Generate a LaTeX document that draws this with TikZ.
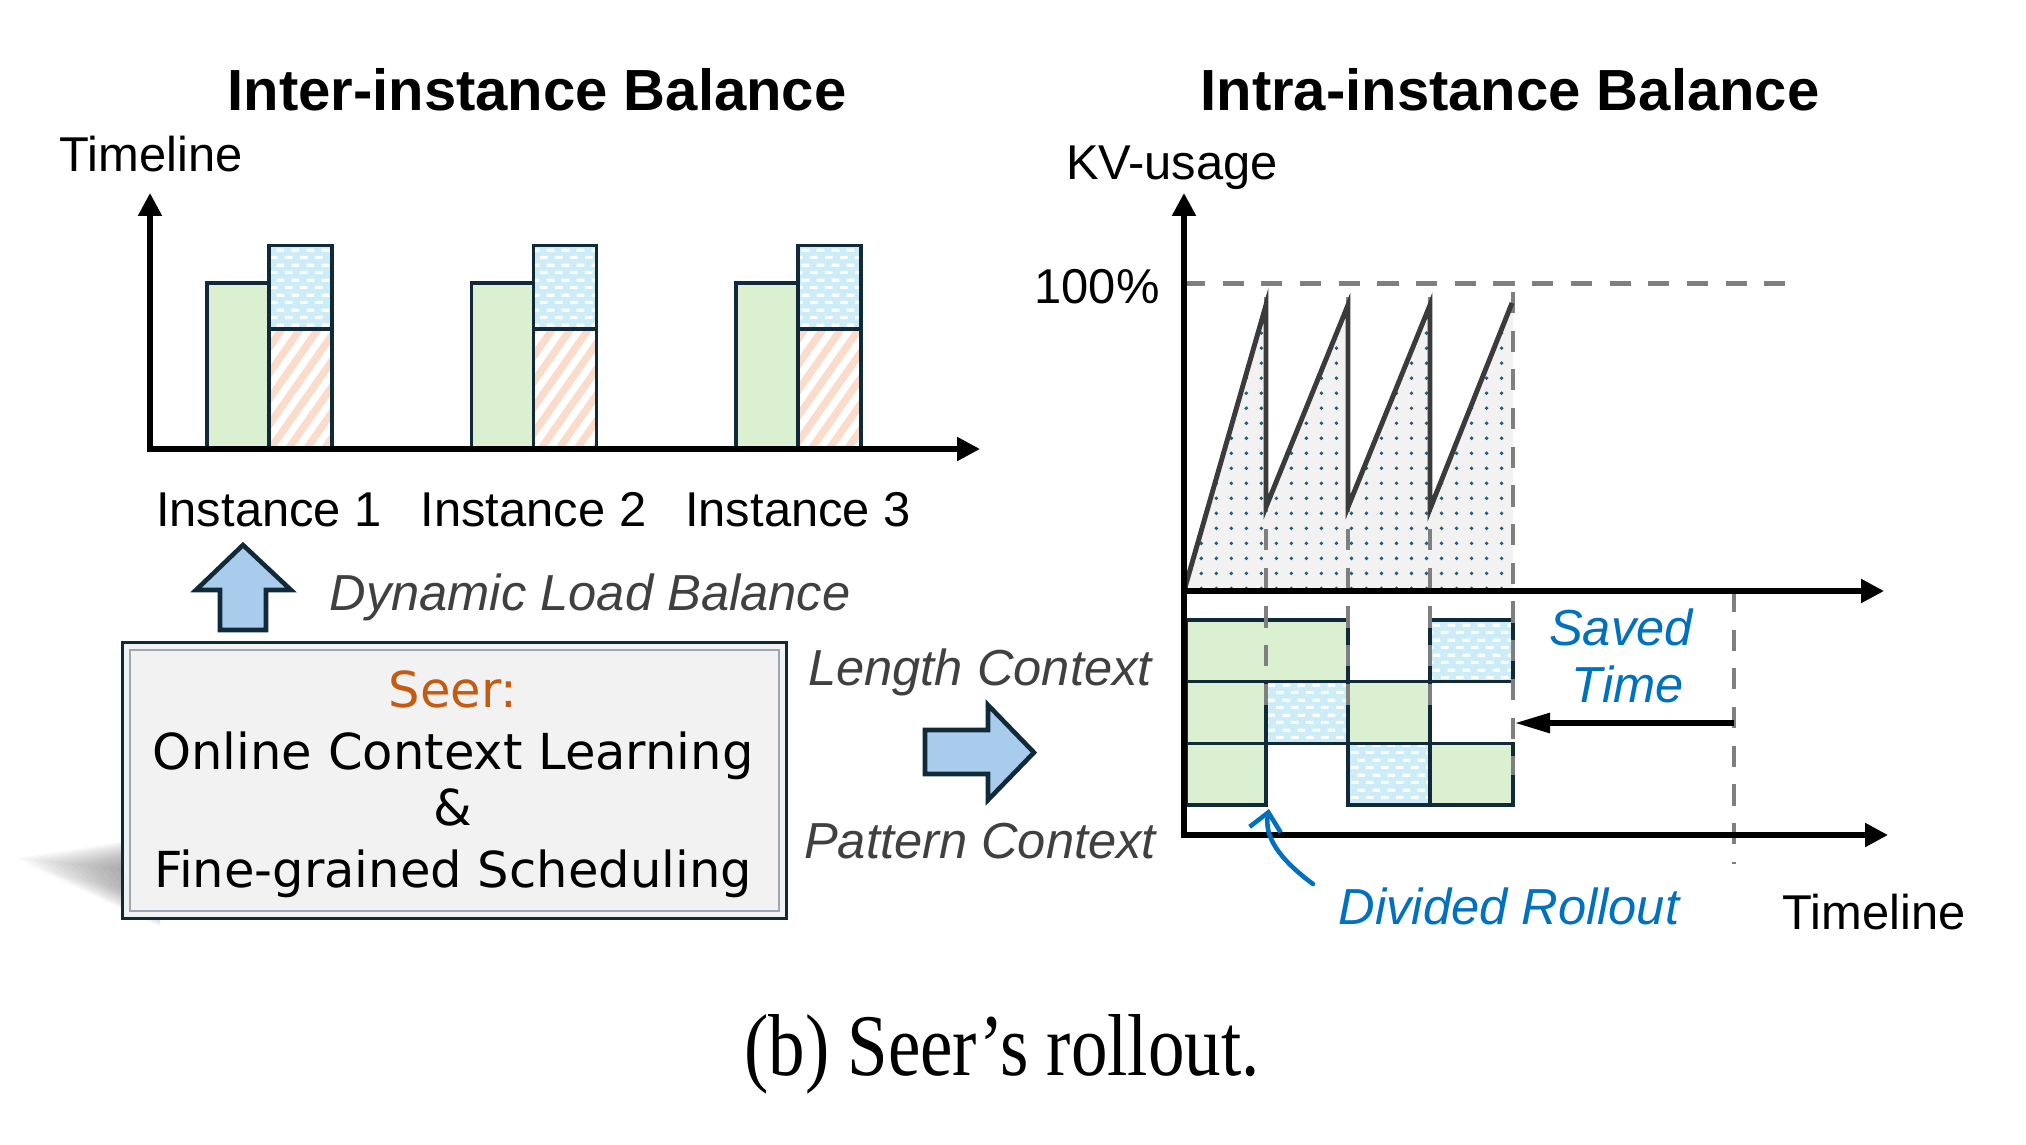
\documentclass[tikz,border=0pt]{standalone}
\usepackage{fontspec}
\setmainfont{Liberation Sans}
\newfontfamily\seerfont{DejaVu Sans}
\newfontfamily\capfont{Liberation Serif}
\usetikzlibrary{arrows.meta,patterns.meta}
\definecolor{navy}{HTML}{102A3A}
\definecolor{barGreen}{HTML}{DAF0D0}
\definecolor{barBlue}{HTML}{CCECF8}
\definecolor{barPeach}{HTML}{FBDCCB}
\definecolor{boxGray}{HTML}{F2F2F2}
\definecolor{dashGray}{HTML}{7F7F7F}
\definecolor{sawGray}{HTML}{3B3B3B}
\definecolor{dotBlue}{HTML}{1D5E80}
\definecolor{txtBlue}{HTML}{0070C0}
\definecolor{txtOrange}{HTML}{C55A11}
\definecolor{txtGray}{HTML}{404040}
\definecolor{arrFill}{HTML}{A9CBEC}
\definecolor{innerLine}{HTML}{9AA8B4}
\tikzdeclarepattern{
  name=whitedash,
  type=uncolored,
  bottom left={(0pt,0pt)},
  top right={(4.27pt,4.27pt)},
  tile size={(4.27pt,4.27pt)},
  code={
    \fill (0pt,0pt) rectangle (2.3pt,0.95pt);
    \fill (2.0pt,2.13pt) rectangle (4.27pt,3.08pt);
  }
}
\begin{document}
\begin{tikzpicture}[x=0.01cm,y=-0.01cm,
  lbl/.style={inner sep=0pt, anchor=base, font=\fontsize{13.9}{16}\selectfont},
  ital/.style={inner sep=0pt, anchor=base, font=\fontsize{14.4}{17}\selectfont\itshape},
  ttl/.style={inner sep=0pt, anchor=base, font=\fontsize{16.5}{19}\selectfont\bfseries},
  seertxt/.style={inner sep=0pt, anchor=base, font=\seerfont\fontsize{14.1}{17}\selectfont},
  axis/.style={line width=1.5pt, -{Triangle[length=6.5pt,width=6.5pt]}},
  greenbox/.style={fill=barGreen, draw=navy, line width=1pt},
  bluebox/.style={draw=navy, line width=1pt, preaction={fill=barBlue}, pattern=whitedash, pattern color=white},
  peachbox/.style={draw=navy, line width=1pt, preaction={fill=white}, pattern={Lines[angle=55,distance=4.2pt,line width=2.1pt]}, pattern color=barPeach},
  gdash/.style={draw=dashGray, line width=1.3pt, dash pattern=on 6pt off 5pt},
  blockarrow/.style={fill=arrFill, draw=navy, line width=1.3pt, line join=miter},
]
\useasboundingbox (0,0) rectangle (2026,1144);

% ---------------- titles ----------------
\node[ttl] (t1) at (537,110) {Inter-instance Balance};
\node[ttl] (t2) at (1510,110) {Intra-instance Balance};

% ---------------- left chart ----------------
\node[lbl] (tl1) at (151,171.5) {Timeline};
\coordinate (o1) at (150,449);
\coordinate (yt1) at (150,193);
\coordinate (xt1) at (980,449);

\foreach \dx/\i in {0/1,264.5/2,529/3}{
  \begin{scope}[xshift=\dx*0.01cm]
    \draw[greenbox] (207,449) rectangle (269,283);
    \draw[peachbox] (269,449) rectangle (332,329);
    \draw[bluebox] (269,329) rectangle (332,245.5);
  \end{scope}
}
\draw[axis] (o1) -- (yt1);
\draw[axis] ([xshift=-0.75pt]o1) -- (xt1);

\node[lbl] (i1) at (269,526.5) {Instance 1};
\node[lbl] (i2) at (533.5,526.5) {Instance 2};
\node[lbl] (i3) at (798,526.5) {Instance 3};

% up block arrow
\draw[blockarrow] (220,630) -- (220,590) -- (196,590) -- (243,545) -- (291,590) -- (266,590) -- (266,630) -- cycle;
\node[ital, text=txtGray] (dlb) at (590,610) {Dynamic Load Balance};

% ---------------- Seer box ----------------
\foreach \t in {0,1,...,13}{
  \fill[black, opacity=0.028] (160,{836+1.2*\t}) -- ({18+7.5*\t},{858+0.8*\t}) -- ({40+7*\t},{870+1.5*\t}) -- (160,{927-1.5*\t}) -- cycle;
}
\node[draw=navy, line width=0.8pt, fill=boxGray, minimum width=664*0.01cm, minimum height=276*0.01cm, inner sep=0pt, anchor=north west] (seer) at (121,641) {};
\draw[innerLine, line width=0.5pt] ([xshift=2.5pt,yshift=-2.5pt]seer.north west) rectangle ([xshift=-2.5pt,yshift=2.5pt]seer.south east);
\node[seertxt, text=txtOrange] (s1) at (453,707) {Seer:};
\node[seertxt] (s2) at (453,769) {Online Context Learning};
\node[seertxt] (s3) at (453,825.6) {\&};
\node[seertxt] (s4) at (453,887.6) {Fine-grained Scheduling};

% ---------------- middle ----------------
\node[ital, text=txtGray] (lc) at (980,685) {Length Context};
\node[ital, text=txtGray] (pc) at (980,858.4) {Pattern Context};
\draw[blockarrow] (925,730) -- (988,730) -- (988,705) -- (1034,752.5) -- (988,800) -- (988,774) -- (925,774) -- cycle;

% ---------------- right chart ----------------
\node[lbl] (kv) at (1172,179.5) {KV-usage};
\node[lbl] (pct) at (1097,303) {100\%};
\coordinate (o2) at (1184,591);
\coordinate (yt2) at (1184,193);
\coordinate (xt2) at (1884,591);
\coordinate (o3) at (1184,835);
\coordinate (xt3) at (1888,835);

% filled area under sawtooth
\path[preaction={fill=boxGray}, pattern={Dots[distance=4.27pt,radius=0.55pt]}, pattern color=dotBlue]
  (1184,591) -- (1266,305) -- (1266,507) -- (1348,305) -- (1348,507) -- (1430,305) -- (1430,509) -- (1513,305) -- (1513,591) -- cycle;

% 100% dashed line
\draw[gdash] (1184,283.5) -- (1798,283.5);

% grid of boxes
\draw[greenbox] (1186,620) rectangle (1348,681.7);
\draw[bluebox] (1430,620) rectangle (1513,681.7);
\draw[greenbox] (1186,681.7) rectangle (1266,743.3);
\draw[bluebox] (1266,681.7) rectangle (1348,743.3);
\draw[greenbox] (1348,681.7) rectangle (1430,743.3);
\draw[greenbox] (1186,743.3) rectangle (1266,805);
\draw[bluebox] (1348,743.3) rectangle (1430,805);
\draw[greenbox] (1430,743.3) rectangle (1513,805);

% vertical dashed lines
\draw[gdash] (1266,297) -- (1266,705);
\draw[gdash] (1348,297) -- (1348,705);
\draw[gdash] (1430,297) -- (1430,705);
\draw[gdash] (1513,292) -- (1513,775);
\draw[gdash] (1734,591) -- (1734,864);

% sawtooth
\draw[sawGray, line width=1.4pt, line join=miter]
  (1184,591) -- (1266,305) -- (1266,507) -- (1348,305) -- (1348,507) -- (1430,305) -- (1430,509) -- (1512,303);

% axes
\draw[axis] (o2) -- (yt2);
\draw[axis] ([xshift=-0.75pt]o2) -- (xt2);
\draw[line width=1.5pt] (o2) -- ([yshift=-0.75pt]o3);
\draw[axis] ([xshift=-0.75pt]o3) -- (xt3);

% saved time
\coordinate (sa) at (1734,723);
\coordinate (sb) at (1515,723);
\draw[line width=1.5pt, -{Triangle[length=10pt,width=5.5pt]}] (sa) -- (sb);
\node[ital, text=txtBlue] (sv1) at (1621,645) {Saved};
\node[ital, text=txtBlue] (sv2) at (1628,702.6) {Time};

% divided rollout
\node[ital, text=txtBlue] (dr) at (1509,924) {Divided Rollout};
\coordinate (dra) at (1313,884);
\coordinate (drb) at (1269,809);
\draw[txtBlue, line width=1.3pt, line cap=round, -{Straight Barb[length=5pt,width=9pt]}] (dra) .. controls (1278,858) and (1264,836) .. (drb);

\node[lbl] (tl2) at (1874,929.5) {Timeline};

% ---------------- caption ----------------
\node[inner sep=0pt, anchor=base, font=\capfont\fontsize{25}{30}\selectfont] (cap) at (1002,1075) {\scalebox{0.83}[1]{(b) Seer’s rollout.}};
\end{tikzpicture}
\end{document}
